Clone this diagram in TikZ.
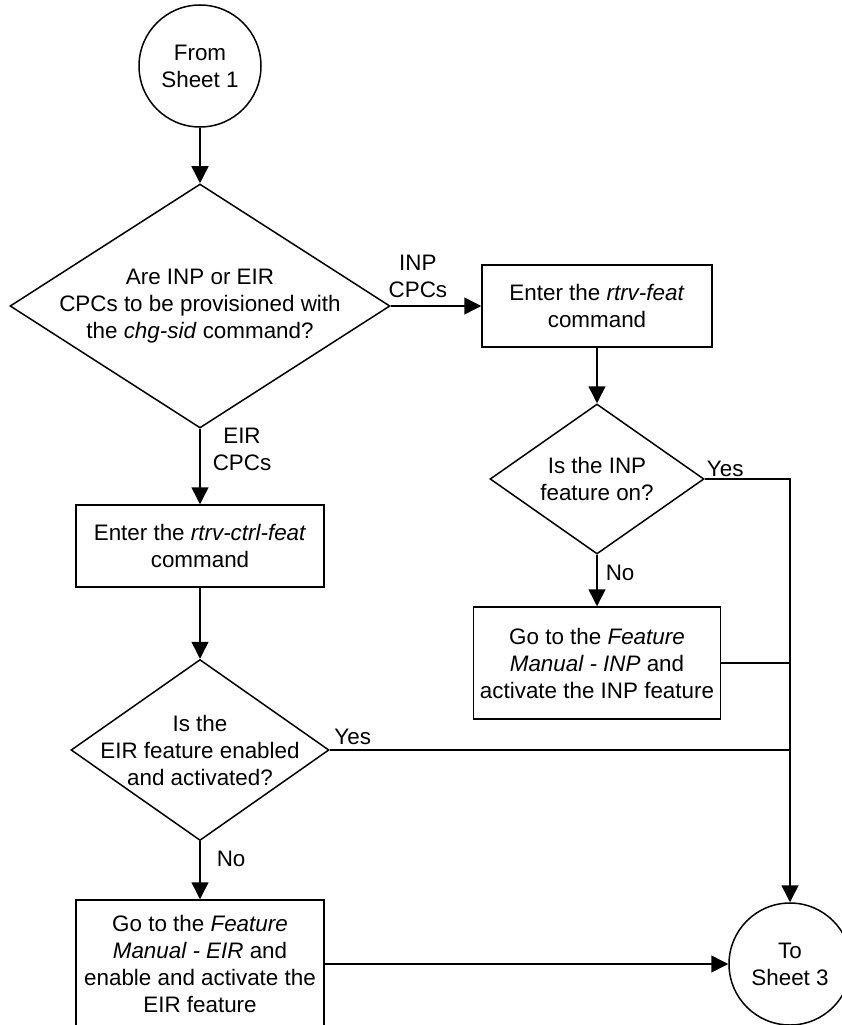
\documentclass[tikz,border=0pt]{standalone}
\usepackage{fontspec}
\setmainfont{Liberation Sans}
\usepackage{tikz}
\usetikzlibrary{calc,shapes.geometric,arrows.meta,positioning}

\begin{document}
\begin{tikzpicture}[x=1pt,y=-1pt]

% --- STYLES ---
\tikzset{
  every node/.style={font=\fontsize{22.4}{27}\selectfont},
  terminal/.style={circle, draw=black, line width=1.5pt, minimum size=122pt,
                   inner sep=0pt, align=center},
  process/.style={rectangle, draw=black, line width=1.5pt, align=center,
                  inner sep=0pt},
  decision/.style={diamond, draw=black, line width=1.5pt, inner sep=0pt},
  dtext/.style={align=center, inner sep=0pt},
  branch/.style={align=center, inner sep=2pt},
  conn/.style={black, line width=1.5pt},
  flow/.style={conn, -{Triangle[length=17pt, width=17pt]}},
}

\useasboundingbox (0,0) rectangle (841,1025);

% ================= TERMINALS =================
\node[terminal] (start) at (200,66) {From\\Sheet 1};
\node[terminal] (end)   at (790,964) {To\\Sheet 3};

% ================= FIRST QUESTION =================
\node[decision, minimum width=380pt, minimum height=244pt] (q1) at (200,306) {};
\node[dtext] (q1t) at (q1) {Are INP or EIR\\CPCs to be provisioned with\\the \textit{chg-sid} command?};

% ================= INP BRANCH =================
\node[process, minimum width=230pt, minimum height=82pt] (rfeat) at (597,306)
      {Enter the \textit{rtrv-feat}\\command};
\node[decision, minimum width=214pt, minimum height=150pt] (qinp) at (597,479) {};
\node[dtext] (qinpt) at (qinp) {Is the INP\\feature on?};
\node[process, minimum width=247pt, minimum height=112pt] (inpman) at (597,663)
      {Go to the \textit{Feature}\\\textit{Manual - INP} and\\activate the INP feature};

% ================= EIR BRANCH =================
\node[process, minimum width=248pt, minimum height=82pt] (rctrl) at (200,546)
      {Enter the \textit{rtrv-ctrl-feat}\\command};
\node[decision, minimum width=258pt, minimum height=181pt] (qeir) at (200,750) {};
\node[dtext] (qeirt) at (qeir) {Is the\\EIR feature enabled\\and activated?};
\node[process, minimum width=248pt, minimum height=128pt] (eirman) at (200,964)
      {Go to the \textit{Feature}\\\textit{Manual - EIR} and\\enable and activate the\\EIR feature};

% ================= CONNECTORS =================
\draw[flow] (start) -- (q1);
\draw[flow] (q1) -- node[branch, pos=0.3, above=6pt] (lblinp) {INP\\CPCs} (rfeat);
\draw[flow] (q1) -- node[branch, pos=0.28, right=10pt] (lbleir) {EIR\\CPCs} (rctrl);

\draw[flow] (rfeat) -- (qinp);
\draw[flow] (qinp) -- node[branch, pos=0.35, right=6pt] (lblno1) {No} (inpman);
\draw[flow] (qinp.east) -| node[branch, pos=0.12, above] (lblyes1) {Yes} (end);
\draw[conn] (inpman.east) -- (inpman.east -| end);

\draw[flow] (rctrl) -- (qeir);
\draw[conn] (qeir.east) -- node[branch, pos=0.05, above=3pt] (lblyes2) {Yes} (qeir.east -| end);
\draw[flow] (qeir) -- node[branch, pos=0.3, right=14pt] (lblno2) {No} (eirman);
\draw[flow] (eirman) -- (end);

\end{tikzpicture}
\end{document}
